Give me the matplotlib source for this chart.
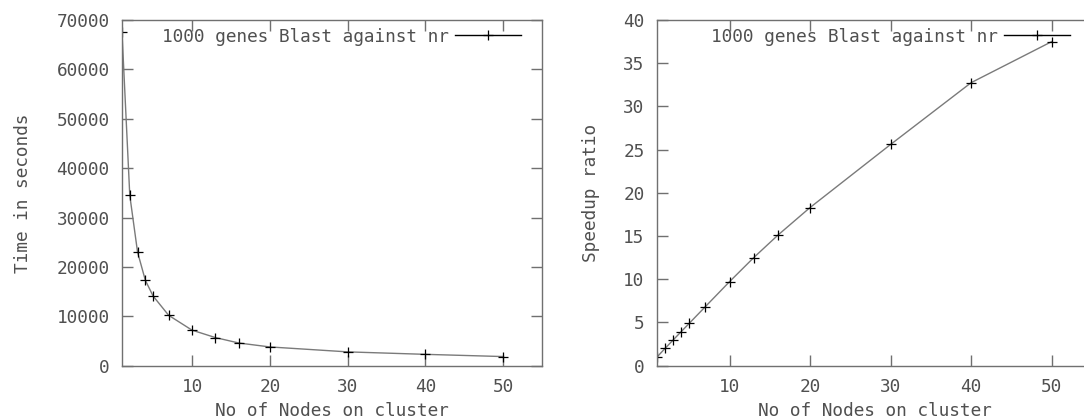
import matplotlib
matplotlib.use("Agg")
import matplotlib.pyplot as plt

nodes = [1, 2, 3, 4, 5, 7, 10, 13, 16, 20, 30, 40, 50]
time_seconds = [67500, 34500, 23000, 17300, 14100, 10200, 7200, 5700, 4600, 3800, 2800, 2300, 1850]
speedup = [1.0, 2.0, 2.97, 3.94, 4.9, 6.83, 9.72, 12.5, 15.1, 18.3, 25.6, 32.75, 37.5]
series_label = "1000 genes Blast against nr"
xlabel = "No of Nodes on cluster"
ylabel_left = "Time in seconds"
ylabel_right = "Speedup ratio"
xticks = [10, 20, 30, 40, 50]
yticks_left = [0, 10000, 20000, 30000, 40000, 50000, 60000, 70000]
yticks_right = [0, 5, 10, 15, 20, 25, 30, 35, 40]

FONT = "DejaVu Sans Mono"
FS = 12.8
SPINE = "#707070"
TEXT = "#505050"
LINE = "#7a7a7a"

plt.rcParams["font.family"] = FONT

W, H = 1084, 419
fig = plt.figure(figsize=(W / 100, H / 100), dpi=100)

def px_axes(x0, x1, y0, y1):
    return fig.add_axes([x0 / W, 1 - y1 / H, (x1 - x0) / W, (y1 - y0) / H])

ax1 = px_axes(122, 542, 20, 365.7)
ax2 = px_axes(657, 1092, 20, 365.7)

def style(ax, y, yticks, ylim, ylab, ylab_x, right_ticks):
    ax.plot(nodes, y, color=LINE, lw=1.0, marker="+", ms=7.5, mec="black", mew=0.9,
            label=series_label)
    ax.set_xlim(1, 55)
    ax.set_ylim(*ylim)
    ax.set_xticks(xticks)
    ax.set_yticks(yticks)
    ax.set_yticklabels([str(v) for v in yticks])
    for s in ax.spines.values():
        s.set_color(SPINE)
        s.set_linewidth(1.0)
    ax.tick_params(direction="in", length=8, width=1.0, color=SPINE,
                   labelcolor=TEXT, labelsize=FS, pad=9,
                   top=True, right=right_ticks)
    ax.set_xlabel(xlabel, fontsize=FS, color=TEXT)
    ax.xaxis.set_label_coords(0.5, -0.105)
    ax.set_ylabel(ylab, fontsize=FS, color=TEXT)
    ax.yaxis.set_label_coords(ylab_x, 0.5)
    leg = ax.legend(loc="center right", bbox_to_anchor=(0.95, 0.952), frameon=False,
                    markerfirst=False, numpoints=1, handlelength=3.7,
                    handletextpad=0.35, borderpad=0, borderaxespad=0,
                    prop={"family": FONT, "size": FS})
    for t in leg.get_texts():
        t.set_color(TEXT)
    for h in leg.legend_handles:
        h.set_color("black")
        h.set_markeredgecolor("black")

style(ax1, time_seconds, yticks_left, (0, 70000), ylabel_left, -0.215, True)
style(ax2, speedup, yticks_right, (0, 40), ylabel_right, -0.13, False)

fig.savefig("out.png", dpi=100)
